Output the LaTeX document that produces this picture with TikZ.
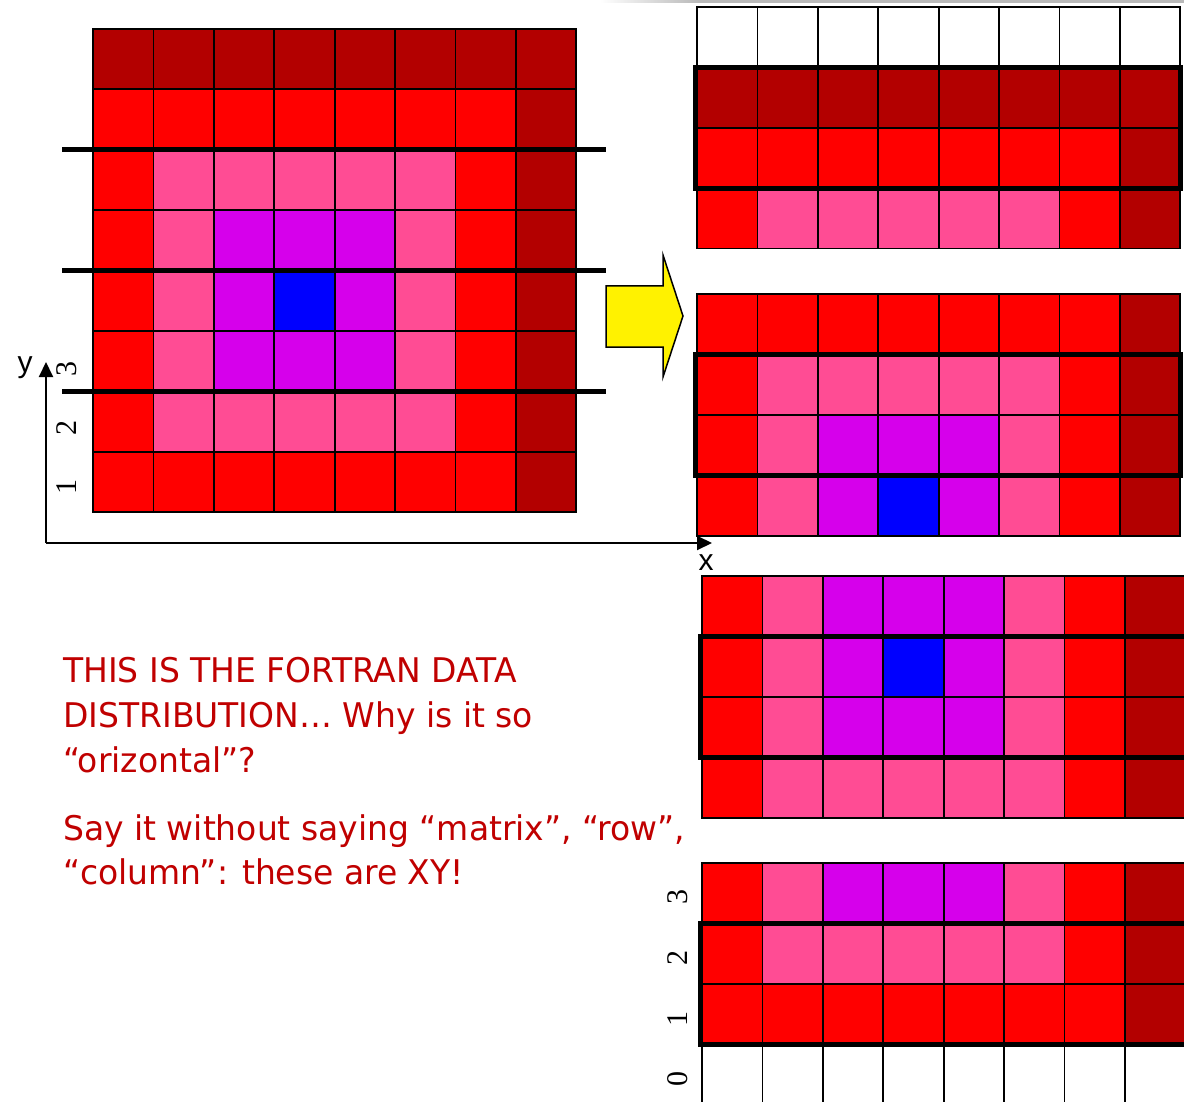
\documentclass[tikz,border=0pt]{standalone}
\usepackage{fontspec}
\setmainfont[FakeStretch=0.97]{DejaVu Sans}
\newfontfamily\numfont{Liberation Serif}
\newfontfamily\axfont{Liberation Sans}
\usetikzlibrary{arrows.meta}
\definecolor{cD}{HTML}{B30000}
\definecolor{cR}{HTML}{FF0000}
\definecolor{cP}{HTML}{FF4C94}
\definecolor{cV}{HTML}{D600EB}
\definecolor{cB}{HTML}{0000FF}
\definecolor{cW}{HTML}{FFFFFF}
\definecolor{notered}{HTML}{C00000}
\def\rowA{cD,cD,cD,cD,cD,cD,cD,cD}
\def\rowB{cR,cR,cR,cR,cR,cR,cR,cD}
\def\rowC{cR,cP,cP,cP,cP,cP,cR,cD}
\def\rowE{cR,cP,cV,cV,cV,cP,cR,cD}
\def\rowF{cR,cP,cV,cB,cV,cP,cR,cD}
\def\rowW{cW,cW,cW,cW,cW,cW,cW,cW}
\newcommand{\cellrow}[3]{\edef\celllist{#3}\foreach \c [count=\i from 0] in \celllist \draw[cell,fill=\c] ({#1+\i*60.4},#2) rectangle ++(60.4,60.4);}
\newcommand{\cellblock}[3]{\foreach \r [count=\j from 0] in {#3} \cellrow{#1}{#2+\j*60.4}{\r};}
\begin{document}
\begin{tikzpicture}[x=1pt,y=-1pt,
cell/.style={draw=black,line width=1.8pt},
slab/.style={draw=black,line width=5pt},
cutline/.style={line width=5pt},
axis/.style={line width=2pt},
num/.style={rotate=90,inner sep=0pt,font=\numfont\fontsize{30}{30}\selectfont},
note/.style={anchor=north west,inner sep=0pt,align=left,text=notered,font=\fontsize{34}{44.8}\selectfont}]
\path[use as bounding box] (0,0) rectangle (1184,1102);
\clip (0,0) rectangle (1184,1102);
\shade[left color=white,right color=gray!55] (600,0) rectangle (700,3);
\fill[gray!55] (700,0) rectangle (1184,3);
\cellblock{93}{29}{\rowA,\rowB,\rowC,\rowE,\rowF,\rowE,\rowC,\rowB}
\draw[cutline] (62,150) -- (606,150);
\draw[cutline] (62,270.5) -- (606,270.5);
\draw[cutline] (62,391) -- (606,391);
\coordinate (orig) at (46,543);
\coordinate (ytip) at (46,362);
\coordinate (xtip) at (712,543);
\draw[axis,-{Triangle[length=15pt,width=14pt]}] (orig) -- (ytip);
\draw[axis,-{Triangle[length=15pt,width=14pt]}] (orig) -- (xtip);
\node[font=\axfont\fontsize{30}{30}\selectfont] (ylab) at (25,368) {y};
\node[font=\axfont\fontsize{30}{30}\selectfont] (xlab) at (706,563) {x};
\node[num] (l1) at (67,487) {1};
\node[num] (l2) at (67,428) {2};
\node[num] (l3) at (67,369) {3};
\draw[fill=yellow,line width=1.5pt] (606,286) -- (663,286) -- (663,255) -- (683,316) -- (663,377) -- (663,347) -- (606,347) -- cycle;
\cellblock{697}{7}{\rowW,\rowA,\rowB,\rowC}
\draw[slab] (695,67.4) rectangle (1180,188.2);
\cellblock{697}{294}{\rowB,\rowC,\rowE,\rowF}
\draw[slab] (695,354.4) rectangle (1180,475.2);
\cellblock{702}{576}{\rowE,\rowF,\rowE,\rowC}
\draw[slab] (700,636.4) rectangle (1190,757.2);
\cellblock{702}{863}{\rowE,\rowC,\rowB,\rowW}
\draw[slab] (700,923.4) rectangle (1190,1044.2);
\node[num] (r3) at (678,897) {3};
\node[num] (r2) at (678,958) {2};
\node[num] (r1) at (678,1019) {1};
\node[num] (r0) at (678,1079) {0};
\node[note] (q1) at (63,657) {THIS IS THE FORTRAN DATA\\DISTRIBUTION… Why is it so\\“orizontal”?};
\node[note] (q2) at (63,814) {Say it without saying “matrix”, “row”,\\“column”: these are XY!};
\end{tikzpicture}
\end{document}
